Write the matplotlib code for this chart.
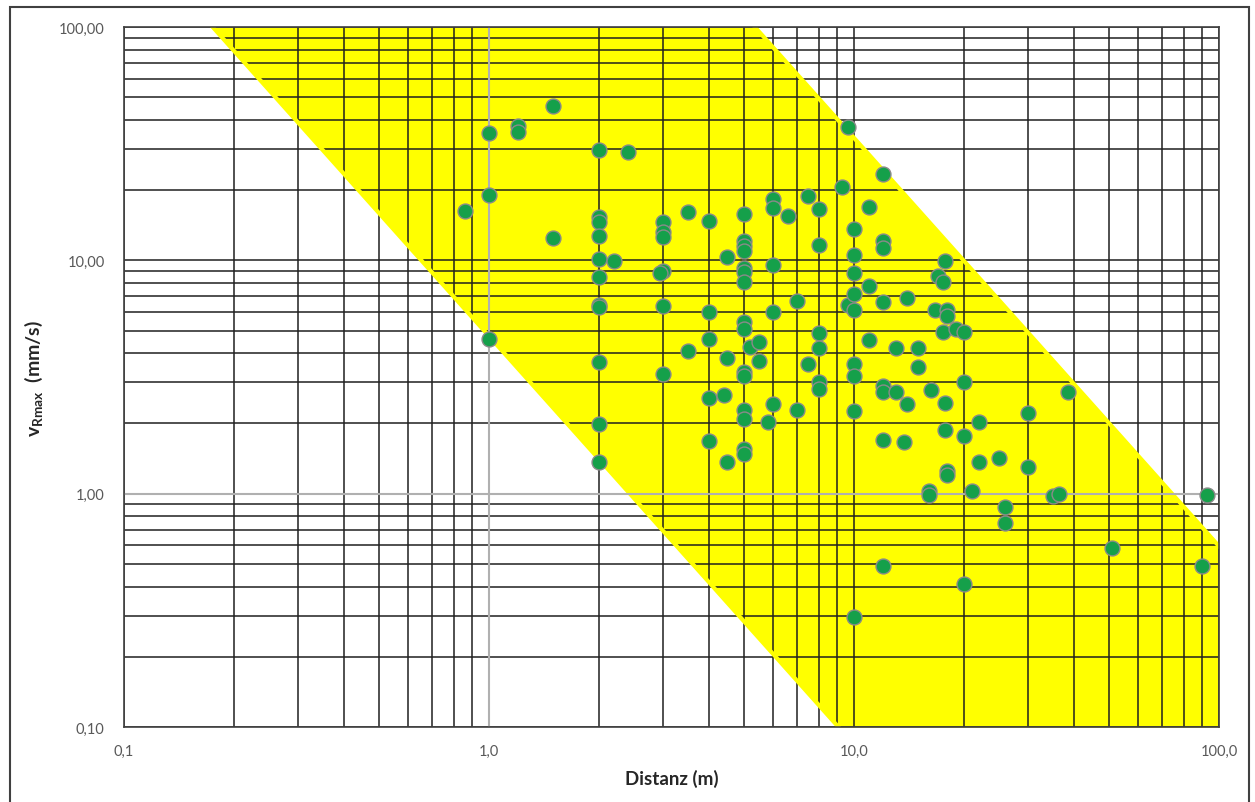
import numpy as np
import matplotlib.pyplot as plt
from matplotlib.ticker import FixedLocator, FixedFormatter, NullFormatter
from matplotlib.patches import Rectangle

plt.rcParams['font.family'] = ['Lato', 'DejaVu Sans']
plt.rcParams['mathtext.fontset'] = 'custom'
plt.rcParams['mathtext.rm'] = 'Lato:bold'
plt.rcParams['mathtext.default'] = 'rm'

# measured points: distance (m) and peak velocity (mm/s)
dist = [0.86,
        1.0, 1.0, 1.0,
        1.2, 1.2,
        1.5, 1.5,
        2.0, 2.0, 2.0, 2.0, 2.0, 2.0, 2.0, 2.0, 2.0, 2.0, 2.0,
        2.2, 2.4,
        3.0, 3.0, 3.0, 3.0, 3.0, 3.0, 2.95,
        3.5, 3.5,
        4.0, 4.0, 4.0, 4.0, 4.0,
        4.4, 4.5, 4.5, 4.5,
        5.0, 5.0, 5.0, 5.0, 5.0, 5.0, 5.0, 5.0, 5.0, 5.0, 5.0, 5.0, 5.0, 5.0, 5.0,
        5.2, 5.5, 5.5, 5.8,
        6.0, 6.0, 6.0, 6.0, 6.0,
        6.6, 7.0, 7.0, 7.5, 7.5,
        8.0, 8.0, 8.0, 8.0, 8.0, 8.0,
        9.3, 9.6, 9.6,
        10.0, 10.0, 10.0, 10.0, 10.0, 10.0, 10.0, 10.0, 10.0,
        11.0, 11.0, 11.0,
        12.0, 12.0, 12.0, 12.0, 12.0, 12.0, 12.0, 12.0,
        13.0, 13.0, 13.7, 14.0, 14.0, 15.0, 15.0,
        16.0, 16.0, 16.3, 16.7,
        17.0, 17.5, 17.5, 17.8, 17.8, 17.8,
        18.0, 18.0, 18.0, 18.0, 19.0,
        20.0, 20.0, 20.0, 20.0, 21.0,
        22.0, 22.0, 25.0, 26.0, 26.0,
        30.0, 30.0, 35.0, 36.5, 38.6,
        51.0, 90.0, 93.0]

vmax = [16.3,
        35.0, 19.0, 4.6,
        37.6, 35.5,
        45.8, 12.5,
        29.6, 15.3, 14.6, 12.7, 10.1, 8.5, 6.45, 6.3, 3.65, 1.98, 1.37,
        9.9, 29.1,
        14.6, 13.2, 12.6, 9.0, 6.4, 3.26, 8.8,
        16.1, 4.08,
        14.7, 6.0, 4.6, 2.57, 1.68,
        2.65, 10.3, 3.81, 1.37,
        15.8, 12.1, 11.5, 11.0, 9.3, 8.9, 8.1, 5.44, 5.08, 3.32, 3.19, 2.28, 2.09, 1.55, 1.48,
        4.25, 4.47, 3.7, 2.02,
        18.3, 16.8, 9.55, 6.0, 2.42,
        15.5, 6.7, 2.28, 18.9, 3.6,
        16.6, 11.6, 4.9, 4.2, 3.0, 2.8,
        20.6, 37.3, 6.43,
        13.6, 10.5, 8.8, 7.17, 6.1, 3.6, 3.2, 2.27, 0.296,
        16.9, 7.76, 4.55,
        23.4, 12.1, 11.3, 6.65, 2.89, 2.73, 1.7, 0.49,
        4.2, 2.73, 1.67, 6.9, 2.42, 4.2, 3.5,
        1.03, 0.99, 2.78, 6.1,
        8.57, 8.07, 4.93, 9.95, 2.44, 1.87,
        6.1, 5.75, 1.25, 1.2, 5.1,
        4.93, 3.0, 1.77, 0.41, 1.03,
        2.02, 1.37, 1.42, 0.88, 0.75,
        2.22, 1.3, 0.98, 1.0, 2.73,
        0.585, 0.49, 0.99]

# band: two parallel lines in log-log space
band_slope = -1.75
band_upper_x100 = 5.35   # distance where upper limit reaches 100 mm/s
band_lower_x100 = 0.175  # distance where lower limit reaches 100 mm/s

x_ticks = [0.1, 1, 10, 100]
x_labels = ['0,1', '1,0', '10,0', '100,0']
y_ticks = [0.1, 1, 10, 100]
y_labels = ['0,10', '1,00', '10,00', '100,00']

fig = plt.figure(figsize=(12.55, 8.03), dpi=100)
ax = fig.add_axes([124 / 1255, 1 - 728 / 803, (1219 - 124) / 1255, (728 - 28) / 803])
ax.set_xscale('log')
ax.set_yscale('log')
ax.set_xlim(0.1, 100)
ax.set_ylim(0.1, 100)

xs = np.logspace(np.log10(band_lower_x100), 2, 600)
upper = np.minimum(100, 100 * (xs / band_upper_x100) ** band_slope)
lower = np.maximum(0.1, 100 * (xs / band_lower_x100) ** band_slope)
ax.fill_between(xs, lower, upper, color='#ffff00', lw=0, zorder=0.2)
ax.plot(xs, 100 * (xs / band_upper_x100) ** band_slope, color='#ffff00', lw=3, zorder=1)
ax.plot(xs, 100 * (xs / band_lower_x100) ** band_slope, color='#ffff00', lw=3, zorder=1)

minor = [m * 10.0 ** e for e in range(-1, 2) for m in range(2, 10)]
ax.xaxis.set_major_locator(FixedLocator(x_ticks))
ax.xaxis.set_major_formatter(FixedFormatter(x_labels))
ax.yaxis.set_major_locator(FixedLocator(y_ticks))
ax.yaxis.set_major_formatter(FixedFormatter(y_labels))
ax.xaxis.set_minor_locator(FixedLocator(minor))
ax.yaxis.set_minor_locator(FixedLocator(minor))
ax.xaxis.set_minor_formatter(NullFormatter())
ax.yaxis.set_minor_formatter(NullFormatter())
ax.set_axisbelow(True)
ax.grid(which='both', color='#1f1f1f', lw=1.1)
ax.tick_params(which='both', length=0, labelsize=10.5, labelcolor='#595959')
ax.tick_params(axis='x', pad=12)
ax.tick_params(axis='y', pad=14)

ax.axhline(1, color='#b0b0b0', lw=1.5, zorder=1.2)
ax.axvline(1, color='#b0b0b0', lw=1.5, zorder=1.2)

for s in ax.spines.values():
    s.set_color('#404040')
    s.set_linewidth(1.2)

ax.scatter(dist, vmax, s=115, color='#15a04a', edgecolor='#8a8a8a', linewidth=1, zorder=3)

ax.set_xlabel('Distanz (m)', fontsize=13.5, fontweight='bold', color='#262626', labelpad=8)
ax.set_ylabel('$v_{Rmax}$  (mm/s)', fontsize=14, fontweight='bold', color='#262626', labelpad=10)

fig.patches.append(Rectangle((10 / 1255, -0.01), 1239 / 1255, 1 - 8 / 803 + 0.01,
                             transform=fig.transFigure, fill=False,
                             edgecolor='#404040', lw=1.5))

fig.savefig('out.png', dpi=100)
